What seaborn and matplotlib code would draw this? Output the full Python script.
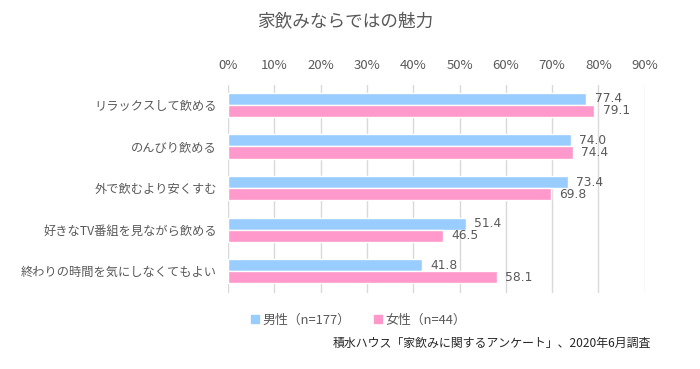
"""家飲みならではの魅力 — horizontal grouped bars (seaborn)."""

import matplotlib.pyplot as plt
import pandas as pd
import seaborn as sns
from matplotlib.ticker import MultipleLocator, PercentFormatter

categories = [
    "リラックスして飲める",
    "のんびり飲める",
    "外で飲むより安くすむ",
    "好きなTV番組を見ながら飲める",
    "終わりの時間を気にしなくてもよい",
]
male = [77.4, 74.0, 73.4, 51.4, 41.8]
female = [79.1, 74.4, 69.8, 46.5, 58.1]
series = ["男性（n=177）", "女性（n=44）"]

TEXT = "#595959"
GRID = "#d9d9d9"
COLORS = ["#99ccff", "#ff99cc"]

df = pd.DataFrame({
    "item": categories * 2,
    "pct": male + female,
    "group": [series[0]] * len(categories) + [series[1]] * len(categories),
})

sns.set_style("white")
plt.rcParams["font.family"] = ["Noto Sans CJK JP", "DejaVu Sans"]

fig = plt.figure(figsize=(7, 3.69), dpi=100)
ax = fig.add_axes([0.326, 0.206, 0.595, 0.564])

sns.barplot(
    data=df, y="item", x="pct", hue="group", order=categories,
    hue_order=series, palette=COLORS, width=0.58, orient="h",
    saturation=1, ax=ax, legend=False,
)

# numbers in the reference look Verdana-like: DejaVu Sans is the closest
for cont in ax.containers:
    ax.bar_label(cont, fmt="%.1f", padding=6, fontsize=8.8, color=TEXT,
                 family="DejaVu Sans")

ax.set_xlim(0, 90)
ax.xaxis.set_major_locator(MultipleLocator(10))
ax.xaxis.set_major_formatter(PercentFormatter(decimals=0))
ax.xaxis.tick_top()
ax.tick_params(axis="x", length=0, pad=9, labelsize=9.5, labelcolor=TEXT)
ax.tick_params(axis="y", length=0, pad=8, labelsize=8.8, labelcolor=TEXT)
ax.grid(axis="x", color=GRID, linewidth=1)
ax.set_axisbelow(True)
ax.set_xlabel("")
ax.set_ylabel("")
for s in ax.spines.values():
    s.set_visible(False)
ax.set_ylim(4.52, -0.48)

fig.text(0.493, 0.94, "家飲みならではの魅力", ha="center", va="center",
         fontsize=12.7, color=TEXT)

handles = [plt.Rectangle((0, 0), 1, 1, color=c) for c in COLORS]
fig.legend(handles, series, loc="center left", bbox_to_anchor=(0.342, 0.133),
           ncol=2, frameon=False, fontsize=9.3, labelcolor=TEXT,
           handlelength=0.6, handleheight=0.6, handletextpad=0.3,
           columnspacing=1.8)

fig.text(0.93, 0.07, "積水ハウス「家飲みに関するアンケート」、2020年6月調査",
         ha="right", va="center", fontsize=8.6, color="#262626")

fig.savefig("out.png", dpi=100)
